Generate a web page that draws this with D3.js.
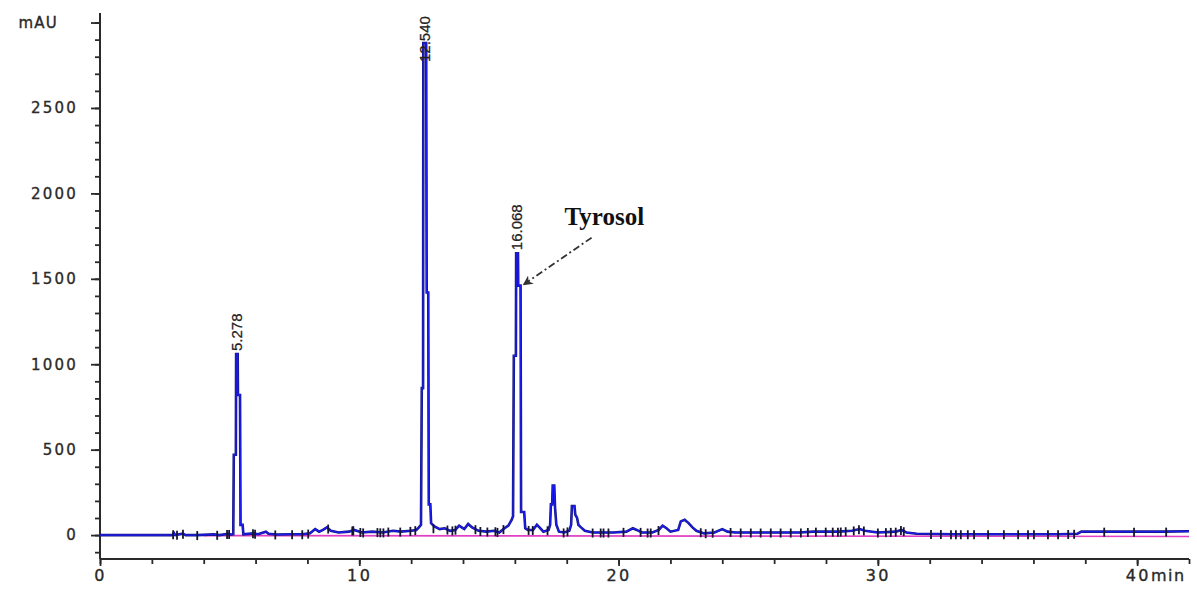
<!DOCTYPE html>
<html>
<head>
<meta charset="utf-8">
<script src="https://cdn.jsdelivr.net/npm/d3@7/dist/d3.min.js"></script>
<style>
  html, body { margin: 0; padding: 0; background: #fff; }
  svg { display: block; }
</style>
</head>
<body>
<svg id="chart" width="1197" height="589"></svg>
<script>
// Chromatogram trace: retention time (min) and detector response (mAU)
const traceTime = [
  0, 2.8, 2.85, 2.9, 3.2, 3.3, 3.75, 4.4, 4.6, 4.95, 5.05,
  5.14, 5.16, 5.24, 5.25, 5.31, 5.32, 5.40, 5.42, 5.50, 5.53,
  5.9, 6.1, 6.3, 6.4, 6.5, 6.8, 7.4, 7.8, 8.1, 8.3, 8.45, 8.6, 8.75, 8.9,
  9.2, 9.6, 9.8, 10.1, 10.5, 10.9, 11.3, 11.6, 12.0, 12.2, 12.3,
  12.38, 12.41, 12.46, 12.47, 12.58, 12.60, 12.66, 12.68, 12.74, 12.77,
  12.9, 13.1, 13.3, 13.5, 13.7, 13.85, 13.95, 14.05, 14.2, 14.35, 14.6,
  14.9, 15.2, 15.4, 15.6, 15.75, 15.88,
  15.93, 15.96, 16.04, 16.05, 16.12, 16.13, 16.22, 16.24, 16.36, 16.40,
  16.5, 16.7, 16.85, 16.95, 17.1, 17.3,
  17.36, 17.39, 17.44, 17.46, 17.52, 17.55, 17.60, 17.7, 17.9, 18.1,
  18.17, 18.2, 18.3, 18.33, 18.4, 18.45, 18.55, 18.7, 19.0, 19.4, 19.8,
  20.3, 20.55, 20.7, 20.9, 21.3, 21.55, 21.7, 21.85, 22.0, 22.3, 22.4,
  22.55, 22.7, 22.85, 23.0, 23.3, 23.7, 24.0, 24.2, 24.5, 25, 26, 27,
  27.5, 28.5, 29.0, 29.3, 29.5, 30.0, 30.7, 30.9, 31.1, 31.5, 33, 35, 37,
  37.7, 37.85, 39, 41, 42
];
const traceMAU = [
  0, 0, 12, 0, 8, 0, 0, 4, 0, 8, 3,
  5, 470, 470, 1060, 1060, 820, 820, 60, 60, 5,
  10, 5, 15, 20, 8, 3, 5, 5, 10, 35, 20, 30, 45, 25,
  15, 20, 30, 15, 20, 15, 25, 20, 25, 30, 45,
  60, 860, 860, 2880, 2880, 1420, 1420, 180, 180, 70,
  50, 35, 40, 25, 30, 55, 45, 35, 65, 45, 25,
  20, 25, 15, 40, 55, 90,
  110, 1050, 1050, 1650, 1650, 1460, 1460, 135, 135, 40,
  30, 30, 60, 45, 20, 30,
  60, 180, 180, 290, 290, 160, 60, 20, 15, 25,
  60, 170, 170, 120, 100, 60, 45, 25, 15, 15, 15,
  20, 40, 30, 15, 15, 30, 55, 40, 20, 30, 80,
  90, 70, 45, 25, 10, 15, 35, 20, 15, 15, 15, 15,
  20, 20, 25, 35, 25, 15, 20, 30, 15, 8, 5, 5, 5,
  8, 20, 20, 20, 22
];

// Integration baseline
const baselineTime = [4.0, 42.0];
const baselineMAU = [-3, -8];

// Integration event markers along the trace (min)
const eventTimes = [
  2.82, 2.97, 3.2, 3.75, 4.52, 4.9, 4.98, 5.9, 5.98, 6.76, 7.41, 7.8, 8.03,
  8.8, 9.73, 9.77, 10.04, 10.15, 10.7, 10.81, 10.93, 11.12,
  11.58, 11.97, 12.16, 12.86, 13.4, 13.59, 13.71, 14.48, 14.67, 14.94,
  15.25, 15.33, 15.56, 16.53, 16.69, 17.26, 17.88, 18.03, 19.0, 19.31,
  19.42, 19.61, 20.19, 20.85, 21.12, 21.24, 21.54, 23.17, 23.36, 23.63,
  24.32, 24.71, 25.1, 25.48, 25.87, 26.25, 26.64,
  27.03, 27.3, 27.61, 27.99, 28.26, 28.46, 28.57, 28.76, 29.07, 29.27,
  29.46, 30.0, 30.31, 30.5, 30.69, 30.89, 31.0, 32.05, 32.43, 32.82,
  33.01, 33.2, 33.47, 33.71, 34.25, 34.86, 35.41, 35.79, 36.02, 36.56,
  36.95, 37.34, 37.57, 38.73, 39.88, 41.12
];

// Labelled peaks: retention time and apex height
const peakLabels = ["5.278", "12.540", "16.068"];
const peakTimes = [5.278, 12.540, 16.068];
const peakHeights = [1060, 2880, 1650];

// Axis ticks
const yMajorTicks = [0, 500, 1000, 1500, 2000, 2500, 3000];
const yMinorTicks = d3.range(-100, 3001, 100);
const xMajorTicks = [0, 10, 20, 30, 40];
const xMinorTicks = d3.range(0, 43, 2);

// Annotated compound
const compoundName = "Tyrosol";
const compoundPoint = [16.22, 1460];

const svg = d3.select("#chart");

const x = d3.scaleLinear().domain([0, 42]).range([100, 1189]);
const y = d3.scaleLinear().domain([-140, 3050]).range([559, 14]);

const axisColor = "#2a2a2a";
const axisFont = "'DejaVu Sans', sans-serif";

// Minor ticks
svg.append("g")
  .attr("transform", `translate(${x(0)},0)`)
  .call(d3.axisLeft(y).tickValues(yMinorTicks).tickSize(5).tickFormat(""))
  .call(g => g.select(".domain").remove());
svg.append("g")
  .attr("transform", `translate(0,${y(-140)})`)
  .call(d3.axisBottom(x).tickValues(xMinorTicks).tickSize(5).tickFormat(""))
  .call(g => g.select(".domain").remove());

// Major ticks with labels
const yAxis = svg.append("g")
  .attr("transform", `translate(${x(0)},0)`)
  .call(d3.axisLeft(y).tickValues(yMajorTicks).tickSize(9).tickPadding(13)
    .tickFormat(d => d === 3000 ? "mAU" : d));
yAxis.select(".domain").remove();
yAxis.selectAll("text")
  .attr("font-family", axisFont).attr("font-size", 15)
  .attr("letter-spacing", 2.2).attr("fill", axisColor)
  .attr("stroke", axisColor).attr("stroke-width", 0.35);
yAxis.selectAll(".tick").filter(d => d === 3000).select("text")
  .attr("letter-spacing", 1.2).attr("x", -42);

const xAxis = svg.append("g")
  .attr("transform", `translate(0,${y(-140)})`)
  .call(d3.axisBottom(x).tickValues(xMajorTicks).tickSize(7).tickPadding(4));
xAxis.select(".domain").remove();
xAxis.selectAll("text")
  .attr("font-family", axisFont).attr("font-size", 16)
  .attr("letter-spacing", 2.5).attr("fill", axisColor)
  .attr("stroke", axisColor).attr("stroke-width", 0.35);
xAxis.selectAll(".tick").filter(d => d === 40).select("text")
  .attr("text-anchor", "start").attr("x", -12)
  .text("40")
  .append("tspan").attr("dx", 0).attr("letter-spacing", 1.5).text("min");

svg.selectAll(".tick line").attr("stroke", axisColor).attr("stroke-width", 1.8);

// Axis lines
svg.append("line")
  .attr("x1", x(0)).attr("x2", x(0)).attr("y1", y(3050) - 1).attr("y2", y(-140))
  .attr("stroke", axisColor).attr("stroke-width", 2);
svg.append("line")
  .attr("x1", x(0)).attr("x2", x(42)).attr("y1", y(-140)).attr("y2", y(-140))
  .attr("stroke", axisColor).attr("stroke-width", 2);

// Baseline
const line = d3.line().x(d => x(d[0])).y(d => y(d[1]));
svg.append("path")
  .datum(baselineTime.map((t, i) => [t, baselineMAU[i]]))
  .attr("d", line)
  .attr("fill", "none").attr("stroke", "#e13fc4").attr("stroke-width", 1.6);

// Trace: a dark outline under a bright blue core
const trace = traceTime.map((t, i) => [t, traceMAU[i]]);
svg.append("path")
  .datum([[0, 0], [3.0, 0]])
  .attr("d", line)
  .attr("fill", "none").attr("stroke", "#3b3bb5").attr("stroke-width", 1.6);
svg.append("path")
  .datum(trace)
  .attr("d", line)
  .attr("fill", "none").attr("stroke", "#161680").attr("stroke-width", 2.6)
  .attr("stroke-linejoin", "miter");
svg.append("path")
  .datum(trace)
  .attr("d", line)
  .attr("fill", "none").attr("stroke", "#1c1cf0").attr("stroke-width", 1.3)
  .attr("stroke-linejoin", "miter");

// Event markers sit on the trace
const bisect = d3.bisector(d => d[0]).left;
function valueAt(t) {
  const i = bisect(trace, t);
  if (i <= 0) return trace[0][1];
  if (i >= trace.length) return trace[trace.length - 1][1];
  const a = trace[i - 1], b = trace[i];
  return a[1] + (b[1] - a[1]) * (t - a[0]) / (b[0] - a[0]);
}
svg.append("g")
  .selectAll("line")
  .data(eventTimes)
  .join("line")
  .attr("x1", d => x(d)).attr("x2", d => x(d))
  .attr("y1", d => y(Math.min(valueAt(d), 40)) - 4)
  .attr("y2", d => y(Math.min(valueAt(d), 40)) + 5)
  .attr("stroke", "#151530").attr("stroke-width", 1.8);

// Peak retention-time labels
svg.append("g")
  .selectAll("text")
  .data(peakLabels)
  .join("text")
  .attr("transform", (d, i) =>
    `translate(${x(peakTimes[i]) + 5},${Math.max(y(peakHeights[i]) - 3, 62)}) rotate(-90)`)
  .attr("font-family", "'Liberation Sans', Arial, sans-serif")
  .attr("font-size", 15)
  .attr("fill", "#222")
  .attr("stroke", "#222").attr("stroke-width", 0.25)
  .text(d => d);

// Compound annotation
const defs = svg.append("defs");
defs.append("marker")
  .attr("id", "arrowHead")
  .attr("viewBox", "0 0 10 10")
  .attr("refX", 9).attr("refY", 5)
  .attr("markerWidth", 10).attr("markerHeight", 10)
  .attr("markerUnits", "userSpaceOnUse")
  .attr("orient", "auto")
  .append("path").attr("d", "M0,0 L10,5 L0,10 L3,5 Z").attr("fill", "#333");

const tipX = x(compoundPoint[0]) + 3, tipY = y(compoundPoint[1]) - 1;
svg.append("line")
  .attr("x1", tipX + 68).attr("y1", tipY - 47)
  .attr("x2", tipX).attr("y2", tipY)
  .attr("stroke", "#333").attr("stroke-width", 1.8)
  .attr("stroke-dasharray", "7,3,2,3")
  .attr("marker-end", "url(#arrowHead)");
svg.append("text")
  .attr("x", tipX + 41).attr("y", tipY - 60)
  .attr("font-family", "'Liberation Serif', 'Times New Roman', serif")
  .attr("font-weight", "bold")
  .attr("font-size", 25)
  .attr("fill", "#111")
  .text(compoundName);
</script>
</body>
</html>
